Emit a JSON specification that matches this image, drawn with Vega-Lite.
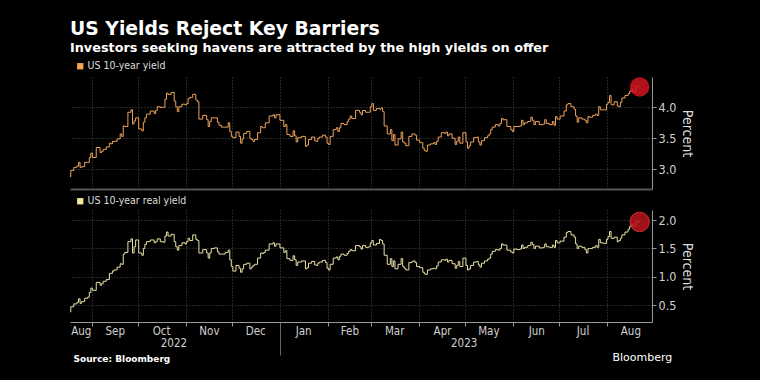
{
"$schema": "https://vega.github.io/schema/vega-lite/v6.json",
"background": "#000000",
"autosize": {"type": "none"},
"padding": {"left": 70, "top": 77, "right": 690, "bottom": 303},
"title": {"text": "US Yields Reject Key Barriers", "subtitle": "Investors seeking havens are attracted by the high yields on offer", "anchor": "start", "frame": "group", "color": "#ffffff", "font": "DejaVu Sans", "fontSize": 18.8, "fontWeight": "bold", "subtitleColor": "#ffffff", "subtitleFont": "DejaVu Sans", "subtitleFontSize": 12.8, "subtitleFontWeight": "bold", "subtitlePadding": 3, "offset": 6},
"datasets": {"yields": [
{"d":"2022-08-18","n":2.88,"r":0.38},{"d":"2022-08-19","n":2.98,"r":0.47},{"d":"2022-08-22","n":3.03,"r":0.52},{"d":"2022-08-23","n":3.05,"r":0.55},{"d":"2022-08-24","n":3.11,"r":0.61},{"d":"2022-08-25","n":3.03,"r":0.53},{"d":"2022-08-26","n":3.04,"r":0.56},{"d":"2022-08-29","n":3.11,"r":0.62},{"d":"2022-08-30","n":3.11,"r":0.64},{"d":"2022-08-31","n":3.19,"r":0.72},
{"d":"2022-09-01","n":3.26,"r":0.80},{"d":"2022-09-02","n":3.19,"r":0.76},{"d":"2022-09-06","n":3.35,"r":0.90},{"d":"2022-09-07","n":3.27,"r":0.85},{"d":"2022-09-08","n":3.29,"r":0.88},{"d":"2022-09-09","n":3.32,"r":0.92},{"d":"2022-09-12","n":3.36,"r":0.95},{"d":"2022-09-13","n":3.42,"r":1.06},{"d":"2022-09-14","n":3.41,"r":1.06},{"d":"2022-09-15","n":3.45,"r":1.10},{"d":"2022-09-16","n":3.45,"r":1.12},{"d":"2022-09-19","n":3.49,"r":1.17},{"d":"2022-09-20","n":3.57,"r":1.23},{"d":"2022-09-21","n":3.53,"r":1.22},{"d":"2022-09-22","n":3.70,"r":1.40},{"d":"2022-09-23","n":3.69,"r":1.43},{"d":"2022-09-26","n":3.92,"r":1.62},{"d":"2022-09-27","n":3.96,"r":1.67},{"d":"2022-09-28","n":3.73,"r":1.42},{"d":"2022-09-29","n":3.78,"r":1.53},{"d":"2022-09-30","n":3.83,"r":1.65},
{"d":"2022-10-03","n":3.65,"r":1.42},{"d":"2022-10-04","n":3.62,"r":1.38},{"d":"2022-10-05","n":3.76,"r":1.50},{"d":"2022-10-06","n":3.83,"r":1.57},{"d":"2022-10-07","n":3.89,"r":1.62},{"d":"2022-10-11","n":3.94,"r":1.65},{"d":"2022-10-12","n":3.90,"r":1.60},{"d":"2022-10-13","n":3.95,"r":1.62},{"d":"2022-10-14","n":4.01,"r":1.67},{"d":"2022-10-17","n":4.00,"r":1.62},{"d":"2022-10-18","n":4.00,"r":1.61},{"d":"2022-10-19","n":4.13,"r":1.72},{"d":"2022-10-20","n":4.23,"r":1.79},{"d":"2022-10-21","n":4.21,"r":1.72},{"d":"2022-10-24","n":4.24,"r":1.75},{"d":"2022-10-25","n":4.10,"r":1.62},{"d":"2022-10-26","n":4.01,"r":1.53},{"d":"2022-10-27","n":3.93,"r":1.47},{"d":"2022-10-28","n":4.01,"r":1.55},{"d":"2022-10-31","n":4.05,"r":1.60},
{"d":"2022-11-01","n":4.04,"r":1.58},{"d":"2022-11-02","n":4.06,"r":1.62},{"d":"2022-11-03","n":4.14,"r":1.68},{"d":"2022-11-04","n":4.16,"r":1.64},{"d":"2022-11-07","n":4.21,"r":1.74},{"d":"2022-11-08","n":4.12,"r":1.66},{"d":"2022-11-09","n":4.09,"r":1.64},{"d":"2022-11-10","n":3.81,"r":1.42},{"d":"2022-11-14","n":3.87,"r":1.48},{"d":"2022-11-15","n":3.80,"r":1.42},{"d":"2022-11-16","n":3.69,"r":1.33},{"d":"2022-11-17","n":3.77,"r":1.42},{"d":"2022-11-18","n":3.83,"r":1.50},{"d":"2022-11-21","n":3.83,"r":1.51},{"d":"2022-11-22","n":3.76,"r":1.44},{"d":"2022-11-23","n":3.71,"r":1.40},{"d":"2022-11-25","n":3.68,"r":1.40},{"d":"2022-11-28","n":3.68,"r":1.43},{"d":"2022-11-29","n":3.75,"r":1.47},{"d":"2022-11-30","n":3.61,"r":1.30},
{"d":"2022-12-01","n":3.53,"r":1.18},{"d":"2022-12-02","n":3.51,"r":1.10},{"d":"2022-12-05","n":3.60,"r":1.20},{"d":"2022-12-06","n":3.53,"r":1.15},{"d":"2022-12-07","n":3.42,"r":1.08},{"d":"2022-12-08","n":3.49,"r":1.14},{"d":"2022-12-09","n":3.58,"r":1.22},{"d":"2022-12-12","n":3.61,"r":1.24},{"d":"2022-12-13","n":3.50,"r":1.14},{"d":"2022-12-14","n":3.48,"r":1.17},{"d":"2022-12-15","n":3.45,"r":1.20},{"d":"2022-12-16","n":3.48,"r":1.22},{"d":"2022-12-19","n":3.59,"r":1.33},{"d":"2022-12-20","n":3.69,"r":1.42},{"d":"2022-12-21","n":3.67,"r":1.41},{"d":"2022-12-22","n":3.67,"r":1.43},{"d":"2022-12-23","n":3.75,"r":1.47},{"d":"2022-12-27","n":3.86,"r":1.58},{"d":"2022-12-28","n":3.88,"r":1.60},{"d":"2022-12-29","n":3.83,"r":1.54},{"d":"2022-12-30","n":3.88,"r":1.58},
{"d":"2023-01-03","n":3.79,"r":1.51},{"d":"2023-01-04","n":3.69,"r":1.43},{"d":"2023-01-05","n":3.72,"r":1.46},{"d":"2023-01-06","n":3.56,"r":1.32},{"d":"2023-01-09","n":3.53,"r":1.29},{"d":"2023-01-10","n":3.62,"r":1.37},{"d":"2023-01-11","n":3.54,"r":1.30},{"d":"2023-01-12","n":3.44,"r":1.20},{"d":"2023-01-13","n":3.51,"r":1.26},{"d":"2023-01-17","n":3.53,"r":1.28},{"d":"2023-01-18","n":3.37,"r":1.14},{"d":"2023-01-19","n":3.39,"r":1.16},{"d":"2023-01-20","n":3.48,"r":1.24},{"d":"2023-01-23","n":3.52,"r":1.27},{"d":"2023-01-24","n":3.46,"r":1.21},{"d":"2023-01-25","n":3.45,"r":1.20},{"d":"2023-01-26","n":3.50,"r":1.24},{"d":"2023-01-27","n":3.52,"r":1.26},{"d":"2023-01-30","n":3.55,"r":1.29},{"d":"2023-01-31","n":3.52,"r":1.25},
{"d":"2023-02-01","n":3.42,"r":1.15},{"d":"2023-02-02","n":3.40,"r":1.12},{"d":"2023-02-03","n":3.53,"r":1.22},{"d":"2023-02-06","n":3.64,"r":1.33},{"d":"2023-02-07","n":3.67,"r":1.35},{"d":"2023-02-08","n":3.61,"r":1.30},{"d":"2023-02-09","n":3.67,"r":1.36},{"d":"2023-02-10","n":3.74,"r":1.40},{"d":"2023-02-13","n":3.72,"r":1.38},{"d":"2023-02-14","n":3.77,"r":1.41},{"d":"2023-02-15","n":3.81,"r":1.45},{"d":"2023-02-16","n":3.86,"r":1.48},{"d":"2023-02-17","n":3.82,"r":1.46},{"d":"2023-02-21","n":3.95,"r":1.55},{"d":"2023-02-22","n":3.92,"r":1.53},{"d":"2023-02-23","n":3.88,"r":1.49},{"d":"2023-02-24","n":3.95,"r":1.55},{"d":"2023-02-27","n":3.92,"r":1.52},{"d":"2023-02-28","n":3.92,"r":1.53},
{"d":"2023-03-01","n":4.01,"r":1.60},{"d":"2023-03-02","n":4.06,"r":1.64},{"d":"2023-03-03","n":3.95,"r":1.56},{"d":"2023-03-06","n":3.98,"r":1.59},{"d":"2023-03-07","n":3.97,"r":1.66},{"d":"2023-03-08","n":3.99,"r":1.64},{"d":"2023-03-09","n":3.93,"r":1.58},{"d":"2023-03-10","n":3.70,"r":1.38},{"d":"2023-03-13","n":3.57,"r":1.22},{"d":"2023-03-14","n":3.64,"r":1.32},{"d":"2023-03-15","n":3.46,"r":1.18},{"d":"2023-03-16","n":3.56,"r":1.28},{"d":"2023-03-17","n":3.39,"r":1.14},{"d":"2023-03-20","n":3.49,"r":1.22},{"d":"2023-03-21","n":3.60,"r":1.32},{"d":"2023-03-22","n":3.44,"r":1.18},{"d":"2023-03-23","n":3.42,"r":1.15},{"d":"2023-03-24","n":3.38,"r":1.12},{"d":"2023-03-27","n":3.53,"r":1.25},{"d":"2023-03-28","n":3.57,"r":1.27},{"d":"2023-03-29","n":3.57,"r":1.28},{"d":"2023-03-30","n":3.55,"r":1.25},{"d":"2023-03-31","n":3.47,"r":1.18},
{"d":"2023-04-03","n":3.43,"r":1.16},{"d":"2023-04-04","n":3.34,"r":1.08},{"d":"2023-04-05","n":3.30,"r":1.05},{"d":"2023-04-06","n":3.29,"r":1.04},{"d":"2023-04-07","n":3.39,"r":1.12},{"d":"2023-04-10","n":3.41,"r":1.14},{"d":"2023-04-11","n":3.43,"r":1.15},{"d":"2023-04-12","n":3.40,"r":1.14},{"d":"2023-04-13","n":3.45,"r":1.19},{"d":"2023-04-14","n":3.52,"r":1.26},{"d":"2023-04-17","n":3.59,"r":1.30},{"d":"2023-04-18","n":3.58,"r":1.29},{"d":"2023-04-19","n":3.60,"r":1.31},{"d":"2023-04-20","n":3.54,"r":1.26},{"d":"2023-04-21","n":3.57,"r":1.29},{"d":"2023-04-24","n":3.50,"r":1.23},{"d":"2023-04-25","n":3.40,"r":1.15},{"d":"2023-04-26","n":3.45,"r":1.20},{"d":"2023-04-27","n":3.52,"r":1.27},{"d":"2023-04-28","n":3.42,"r":1.18},
{"d":"2023-05-01","n":3.59,"r":1.33},{"d":"2023-05-02","n":3.44,"r":1.20},{"d":"2023-05-03","n":3.34,"r":1.12},{"d":"2023-05-04","n":3.38,"r":1.14},{"d":"2023-05-05","n":3.44,"r":1.20},{"d":"2023-05-08","n":3.51,"r":1.26},{"d":"2023-05-09","n":3.52,"r":1.27},{"d":"2023-05-10","n":3.44,"r":1.21},{"d":"2023-05-11","n":3.39,"r":1.17},{"d":"2023-05-12","n":3.46,"r":1.24},{"d":"2023-05-15","n":3.51,"r":1.28},{"d":"2023-05-16","n":3.54,"r":1.31},{"d":"2023-05-17","n":3.57,"r":1.33},{"d":"2023-05-18","n":3.64,"r":1.40},{"d":"2023-05-19","n":3.68,"r":1.45},{"d":"2023-05-22","n":3.72,"r":1.48},{"d":"2023-05-23","n":3.70,"r":1.47},{"d":"2023-05-24","n":3.74,"r":1.50},{"d":"2023-05-25","n":3.82,"r":1.58},{"d":"2023-05-26","n":3.80,"r":1.56},{"d":"2023-05-30","n":3.69,"r":1.47},{"d":"2023-05-31","n":3.64,"r":1.44},
{"d":"2023-06-01","n":3.61,"r":1.42},{"d":"2023-06-02","n":3.69,"r":1.49},{"d":"2023-06-05","n":3.69,"r":1.48},{"d":"2023-06-06","n":3.70,"r":1.49},{"d":"2023-06-07","n":3.79,"r":1.56},{"d":"2023-06-08","n":3.72,"r":1.50},{"d":"2023-06-09","n":3.75,"r":1.52},{"d":"2023-06-12","n":3.77,"r":1.55},{"d":"2023-06-13","n":3.84,"r":1.61},{"d":"2023-06-14","n":3.79,"r":1.57},{"d":"2023-06-15","n":3.72,"r":1.50},{"d":"2023-06-16","n":3.77,"r":1.54},{"d":"2023-06-20","n":3.72,"r":1.51},{"d":"2023-06-21","n":3.73,"r":1.52},{"d":"2023-06-22","n":3.80,"r":1.58},{"d":"2023-06-23","n":3.74,"r":1.53},{"d":"2023-06-26","n":3.72,"r":1.52},{"d":"2023-06-27","n":3.77,"r":1.56},{"d":"2023-06-28","n":3.71,"r":1.52},{"d":"2023-06-29","n":3.85,"r":1.64},{"d":"2023-06-30","n":3.81,"r":1.60},
{"d":"2023-07-03","n":3.86,"r":1.63},{"d":"2023-07-05","n":3.94,"r":1.70},{"d":"2023-07-06","n":4.04,"r":1.78},{"d":"2023-07-07","n":4.06,"r":1.80},{"d":"2023-07-10","n":4.01,"r":1.74},{"d":"2023-07-11","n":3.97,"r":1.70},{"d":"2023-07-12","n":3.86,"r":1.58},{"d":"2023-07-13","n":3.76,"r":1.50},{"d":"2023-07-14","n":3.83,"r":1.54},{"d":"2023-07-17","n":3.81,"r":1.52},{"d":"2023-07-18","n":3.79,"r":1.48},{"d":"2023-07-19","n":3.75,"r":1.42},{"d":"2023-07-20","n":3.85,"r":1.50},{"d":"2023-07-21","n":3.84,"r":1.50},{"d":"2023-07-24","n":3.87,"r":1.52},{"d":"2023-07-25","n":3.89,"r":1.55},{"d":"2023-07-26","n":3.87,"r":1.52},{"d":"2023-07-27","n":4.01,"r":1.66},{"d":"2023-07-28","n":3.96,"r":1.60},{"d":"2023-07-31","n":3.96,"r":1.59},
{"d":"2023-08-01","n":4.05,"r":1.66},{"d":"2023-08-02","n":4.08,"r":1.71},{"d":"2023-08-03","n":4.19,"r":1.80},{"d":"2023-08-04","n":4.04,"r":1.68},{"d":"2023-08-07","n":4.09,"r":1.70},{"d":"2023-08-08","n":4.02,"r":1.62},{"d":"2023-08-09","n":4.01,"r":1.64},{"d":"2023-08-10","n":4.08,"r":1.68},{"d":"2023-08-11","n":4.15,"r":1.74},{"d":"2023-08-14","n":4.19,"r":1.79},{"d":"2023-08-15","n":4.22,"r":1.84},{"d":"2023-08-16","n":4.26,"r":1.89},{"d":"2023-08-17","n":4.29,"r":1.93},{"d":"2023-08-18","n":4.25,"r":1.90},{"d":"2023-08-21","n":4.34,"r":1.98},{"d":"2023-08-22","n":4.33,"r":1.97}
]},
"data": {"name": "yields"},
"bounds": "flush",
"spacing": 21,
"resolve": {"scale": {"color": "independent", "x": "independent", "y": "independent"}, "legend": {"color": "independent"}},
"vconcat": [
{
"width": 582, "height": 112,
"encoding": {
  "y": {"field": "n", "type": "quantitative", "scale": {"domain": [2.68, 4.49], "nice": false, "zero": false},
        "axis": {"orient": "right", "values": [3.0, 3.5, 4.0], "format": ".1f", "grid": true, "labelOverlap": false, "title": "Percent"}}
},
"layer": [
{"mark": {"type": "line", "interpolate": "step", "strokeWidth": 1},
 "encoding": {
  "x": {"field": "d", "type": "temporal", "scale": {"domain": [{"year":2022,"month":8,"date":18},{"year":2023,"month":8,"date":30}], "nice": false},
        "axis": {"orient": "bottom", "values": [{"year":2022,"month":9,"date":1},{"year":2022,"month":10,"date":1},{"year":2022,"month":11,"date":1},{"year":2022,"month":12,"date":1},{"year":2023,"month":1,"date":1},{"year":2023,"month":2,"date":1},{"year":2023,"month":3,"date":1},{"year":2023,"month":4,"date":1},{"year":2023,"month":5,"date":1},{"year":2023,"month":6,"date":1},{"year":2023,"month":7,"date":1},{"year":2023,"month":8,"date":1}],
                 "grid": true, "ticks": false, "labels": false, "domain": true, "domainColor": "#555555", "domainWidth": 2, "title": null}},
  "color": {"datum": "US 10-year yield", "type": "nominal", "scale": {"range": ["#eda35c"]},
            "legend": {"orient": "none", "legendX": 5, "legendY": -16, "title": null, "symbolType": "square", "symbolSize": 40, "symbolFillColor": "#f5a54f", "symbolStrokeWidth": 0, "labelFont": "DejaVu Sans Condensed, DejaVu Sans", "labelFontSize": 10.5, "labelColor": "#dddddd", "labelOffset": 2, "padding": 0}}
 }},
{"transform": [{"filter": "utcyear(datum.d)==2023 && utcmonth(datum.d)==7 && utcdate(datum.d)==22"}],
 "mark": {"type": "point", "filled": true, "size": 380, "color": "#d0141c", "opacity": 0.85},
 "encoding": {"x": {"field": "d", "type": "temporal"}}}
]
},
{
"width": 582, "height": 112,
"resolve": {"axis": {"x": "independent"}},
"encoding": {
  "y": {"field": "r", "type": "quantitative", "scale": {"domain": [0.2, 2.18], "nice": false, "zero": false},
        "axis": {"orient": "right", "values": [0.5, 1.0, 1.5, 2.0], "format": ".1f", "grid": true, "labelOverlap": false, "title": "Percent"}}
},
"layer": [
{"mark": {"type": "line", "interpolate": "step", "strokeWidth": 1},
 "encoding": {
  "x": {"field": "d", "type": "temporal", "scale": {"domain": [{"year":2022,"month":8,"date":18},{"year":2023,"month":8,"date":30}], "nice": false},
        "axis": {"orient": "bottom", "values": [{"year":2022,"month":9,"date":1},{"year":2022,"month":10,"date":1},{"year":2022,"month":11,"date":1},{"year":2022,"month":12,"date":1},{"year":2023,"month":1,"date":1},{"year":2023,"month":2,"date":1},{"year":2023,"month":3,"date":1},{"year":2023,"month":4,"date":1},{"year":2023,"month":5,"date":1},{"year":2023,"month":6,"date":1},{"year":2023,"month":7,"date":1},{"year":2023,"month":8,"date":1}],
                 "grid": true, "ticks": true, "tickSize": 4, "labels": false, "domain": true,
                 "title": "Source: Bloomberg", "titleX": 3, "titleY": 39, "titleAlign": "left", "titleAnchor": "start", "titleBaseline": "alphabetic", "titleFont": "DejaVu Sans", "titleFontSize": 9, "titleFontWeight": "bold", "titleColor": "#ffffff"}},
  "color": {"datum": "US 10-year real yield", "type": "nominal", "scale": {"range": ["#e9e1a6"]},
            "legend": {"orient": "none", "legendX": 5, "legendY": -14, "title": null, "symbolType": "square", "symbolSize": 40, "symbolFillColor": "#f3e6a1", "symbolStrokeWidth": 0, "labelFont": "DejaVu Sans Condensed, DejaVu Sans", "labelFontSize": 10.5, "labelColor": "#dddddd", "labelOffset": 2, "padding": 0}}
 }},
{"transform": [{"filter": "utcyear(datum.d)==2023 && utcmonth(datum.d)==7 && utcdate(datum.d)==22"}],
 "mark": {"type": "point", "filled": true, "size": 380, "color": "#b8141c", "opacity": 0.85},
 "encoding": {
  "x": {"field": "d", "type": "temporal",
        "axis": {"orient": "bottom", "values": [{"year":2022,"month":8,"date":25},{"year":2022,"month":9,"date":16},{"year":2022,"month":10,"date":16},{"year":2022,"month":11,"date":16},{"year":2022,"month":12,"date":16},{"year":2023,"month":1,"date":16},{"year":2023,"month":2,"date":15},{"year":2023,"month":3,"date":16},{"year":2023,"month":4,"date":16},{"year":2023,"month":5,"date":16},{"year":2023,"month":6,"date":16},{"year":2023,"month":7,"date":16},{"year":2023,"month":8,"date":16}],
                 "format": "%b", "grid": false, "ticks": false, "domain": false, "labelPadding": 3, "labelOverlap": false, "labelFlush": false, "labelBound": false,
                 "title": "Bloomberg", "titleX": 542, "titleY": 38, "titleAlign": "left", "titleAnchor": "start", "titleBaseline": "alphabetic", "titleFont": "DejaVu Sans", "titleFontSize": 11, "titleFontWeight": "normal", "titleColor": "#ffffff"}}}},
{"transform": [{"filter": "utcyear(datum.d)==2023 && utcmonth(datum.d)==7 && utcdate(datum.d)==22"}],
 "mark": {"type": "point", "filled": false, "size": 380, "color": "#e0303a", "strokeWidth": 1, "opacity": 0.9},
 "encoding": {
  "x": {"field": "d", "type": "temporal",
        "axis": {"orient": "bottom", "values": [{"year":2022,"month":10,"date":24},{"year":2023,"month":1,"date":1},{"year":2023,"month":4,"date":30}],
                 "grid": false, "domain": false, "ticks": true, "tickSize": 33, "tickColor": "#666666",
                 "tickOpacity": {"condition": {"test": "month(datum.value)==0 && date(datum.value)==1", "value": 1}, "value": 0},
                 "labelExpr": "month(datum.value)==0 && date(datum.value)==1 ? '' : timeFormat(datum.value, '%Y')",
                 "labelPadding": -18, "labelOverlap": false, "labelFlush": false, "labelBound": false, "title": null}}}}
]
}
],
"config": {
 "view": {"stroke": null},
 "axis": {"domainColor": "#999999", "tickColor": "#999999", "labelColor": "#d0d0d0", "labelFont": "DejaVu Sans Condensed, DejaVu Sans", "labelFontSize": 11.5, "gridColor": "#4a4a4a", "gridDash": [1, 2], "gridWidth": 1, "titleColor": "#dddddd", "titleFont": "DejaVu Sans Condensed, DejaVu Sans", "titleFontWeight": "normal", "titleFontSize": 14},
 "axisY": {"tickSize": 4, "labelPadding": 2, "titlePadding": 4, "labelFontSize": 12.5}
}
}
